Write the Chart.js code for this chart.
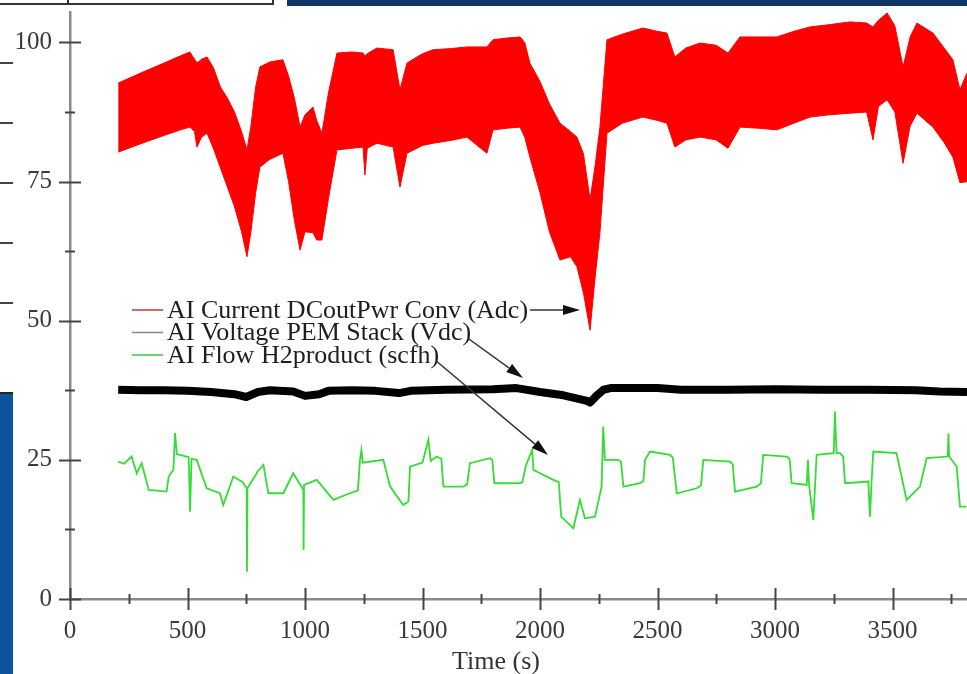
<!DOCTYPE html>
<html>
<head>
<meta charset="utf-8">
<title>PEM stack run</title>
<script src="https://cdn.jsdelivr.net/npm/chart.js@4.4.1/dist/chart.umd.min.js"></script>
<style>
  html, body { margin: 0; padding: 0; background: #fff; overflow: hidden; }
  #wrap { position: relative; width: 967px; height: 674px; }
  #plot { position: absolute; left: 0; top: 0; }
  .deco { position: absolute; }
</style>
</head>
<body>
<div id="wrap">
  <!-- bits of the slide around the cropped figure -->
  <div class="deco" style="left:0;top:3px;width:274px;height:2px;background:#333"></div>
  <div class="deco" style="left:67px;top:0;width:2px;height:5px;background:#333"></div>
  <div class="deco" style="left:272px;top:0;width:2px;height:5px;background:#333"></div>
  <div class="deco" style="left:0;top:62px;width:13px;height:2px;background:#444"></div>
  <div class="deco" style="left:0;top:122px;width:13px;height:2px;background:#444"></div>
  <div class="deco" style="left:0;top:182px;width:13px;height:2px;background:#444"></div>
  <div class="deco" style="left:0;top:242px;width:13px;height:2px;background:#444"></div>
  <div class="deco" style="left:0;top:302px;width:13px;height:2px;background:#444"></div>
  <div class="deco" style="left:0;top:392px;width:13px;height:282px;background:#0b53a0;border-top:2px solid #222"></div>
  <div class="deco" style="left:287px;top:0;width:680px;height:6px;background:#0e3768"></div>
  <canvas id="plot" width="967" height="674"></canvas>
</div>
<script>
// legend
const seriesNames = [
    'AI Current DCoutPwr Conv (Adc)',
    'AI Voltage PEM Stack (Vdc)',
    'AI Flow H2product (scfh)'
];
const legendColors = ['#cc3333', '#888888', '#33cc33'];
const axisTitle = 'Time (s)';

// current: band between the low and high of the ripple
const redTime = [205, 300, 400, 470, 510, 530, 540, 560, 583, 610, 640, 670, 700, 730, 753, 770, 790, 808, 850, 906,
    930, 955, 979, 1000, 1034, 1050, 1072, 1100, 1136, 1200, 1247, 1255, 1265, 1306, 1375, 1404, 1434, 1500, 1545, 1620,
    1689, 1774, 1800, 1860, 1915, 1935, 1957, 2000, 2040, 2085, 2130, 2157, 2185, 2213, 2235, 2255, 2285, 2350, 2438, 2500,
    2540, 2574, 2620, 2681, 2750, 2800, 2851, 2930, 3008, 3080, 3149, 3230, 3319, 3390, 3417, 3440, 3477, 3510, 3545, 3575,
    3604, 3672, 3720, 3757, 3787, 3817];
const redHigh = [92.7, 94.5, 96.3, 97.6, 98.3, 97.0, 96.3, 97.0, 97.4, 95.5, 92.0, 90.0, 87.5, 84.0, 80.7, 85.0, 92.0, 95.6, 96.5, 96.9,
    94.0, 90.0, 84.8, 87.0, 88.4, 86.0, 83.7, 91.0, 98.1, 98.3, 98.1, 97.5, 98.0, 99.0, 98.7, 91.5, 96.3, 98.0, 98.7, 98.9,
    99.2, 99.2, 100.5, 100.8, 101.0, 100.0, 96.3, 93.0, 89.0, 85.5, 84.0, 83.0, 80.0, 71.7, 78.0, 84.8, 100.5, 101.5, 102.6, 102.0,
    101.7, 97.4, 99.0, 99.9, 99.5, 98.1, 101.0, 101.0, 101.0, 102.0, 102.8, 103.2, 103.7, 103.5, 102.8, 104.0, 105.3, 103.0, 95.6, 101.0,
    103.5, 101.7, 99.0, 96.9, 91.5, 94.5];
const redLow = [80.3, 81.8, 83.3, 84.3, 84.8, 84.0, 81.2, 83.0, 83.7, 81.0, 77.5, 74.0, 70.5, 66.0, 61.5, 66.0, 73.0, 77.6, 79.0, 80.1,
    75.0, 68.0, 62.7, 66.0, 65.8, 64.5, 64.5, 72.0, 80.7, 81.0, 81.2, 76.2, 81.0, 81.9, 81.2, 74.0, 80.1, 81.5, 81.9, 82.4,
    83.0, 80.1, 84.3, 84.6, 84.8, 83.0, 79.4, 73.0, 66.0, 60.9, 61.5, 59.7, 55.0, 48.3, 58.0, 65.8, 83.7, 85.5, 86.6, 86.0,
    85.5, 81.2, 82.5, 83.0, 82.5, 81.0, 84.8, 84.6, 84.3, 85.5, 86.6, 87.0, 87.3, 87.5, 82.5, 88.5, 89.7, 87.5, 78.3, 85.0,
    87.3, 84.8, 82.0, 79.4, 74.8, 75.0];

// stack voltage
const voltTime = [205, 300, 400, 500, 600, 700, 750, 800, 850, 950, 1000, 1060, 1100, 1200, 1300, 1400, 1450, 1600, 1800, 1900,
    2000, 2100, 2200, 2213, 2240, 2270, 2300, 2500, 2600, 2800, 3000, 3200, 3400, 3600, 3700, 3817];
const voltValue = [37.6, 37.5, 37.5, 37.4, 37.2, 36.8, 36.3, 37.2, 37.5, 37.3, 36.5, 36.8, 37.4, 37.5, 37.4, 37.0, 37.4, 37.6, 37.7, 37.9,
    37.2, 36.6, 35.6, 35.3, 36.5, 37.6, 37.9, 37.9, 37.6, 37.6, 37.7, 37.6, 37.6, 37.5, 37.3, 37.2];

// hydrogen flow
const flowTime = [206, 230, 262, 284, 305, 335, 411, 420, 440, 447, 455, 468, 505, 511, 517, 539, 582, 638, 652, 695,
    735, 752, 753, 755, 800, 823, 844, 908, 950, 993, 994, 996, 1050, 1121, 1191, 1225, 1234, 1240, 1246, 1333, 1362,
    1418, 1440, 1447, 1500, 1525, 1535, 1560, 1580, 1589, 1674, 1690, 1702, 1787, 1797, 1806, 1915, 1925, 1940, 1967, 1972, 2000, 2057,
    2080, 2090, 2142, 2170, 2191, 2234, 2262, 2269, 2276, 2334, 2345, 2355, 2426, 2440, 2447, 2468, 2553, 2565, 2582, 2667, 2685,
    2695, 2809, 2820, 2830, 2922, 2940, 2950, 3050, 3062, 3071, 3135, 3140, 3145, 3163, 3170, 3177, 3250, 3255, 3262, 3277,
    3290, 3298, 3397, 3404, 3411, 3418, 3517, 3560, 3617, 3645, 3735, 3738, 3741, 3773, 3787, 3815];
const flowValue = [24.7, 24.3, 25.6, 22.6, 24.4, 19.6, 19.3, 22.0, 23.2, 29.8, 26.0, 25.9, 25.5, 15.7, 25.2, 25.0, 19.9, 19.0, 16.9, 22.0,
    21.0, 19.9, 4.9, 19.9, 23.0, 24.1, 19.0, 19.0, 22.6, 19.6, 8.8, 20.5, 21.4, 17.8, 19.0, 19.5, 25.0, 26.8, 24.5, 25.0, 20.2,
    16.9, 17.5, 23.8, 24.5, 28.6, 24.8, 25.6, 25.2, 20.2, 20.2, 20.6, 24.4, 25.3, 25.0, 20.8, 20.8, 21.0, 24.0, 26.8, 23.2, 22.6, 21.4,
    21.0, 14.8, 12.7, 17.8, 14.5, 14.8, 20.2, 31.0, 25.0, 25.0, 24.6, 20.2, 20.8, 21.2, 25.0, 26.5, 25.9, 25.4, 19.0, 19.9, 20.4,
    25.0, 24.7, 24.2, 19.3, 20.2, 20.8, 25.9, 25.6, 25.2, 20.8, 20.5, 25.0, 20.5, 14.2, 20.0, 25.9, 26.2, 33.7, 26.2, 26.2,
    25.6, 20.8, 21.1, 14.8, 21.1, 26.5, 26.2, 17.8, 20.2, 25.3, 25.6, 29.8, 25.6, 23.8, 16.6, 16.6];

const serif = "'Liberation Serif', 'Times New Roman', serif";
const pts = (xs, ys) => xs.map((x, i) => ({ x: x, y: ys[i] }));

function arrow(ctx, x1, y1, x2, y2) {
    const a = Math.atan2(y2 - y1, x2 - x1);
    const len = 17, half = 5;
    const bx = x2 - len * Math.cos(a), by = y2 - len * Math.sin(a);
    ctx.beginPath();
    ctx.moveTo(x1, y1);
    ctx.lineTo(bx, by);
    ctx.stroke();
    ctx.beginPath();
    ctx.moveTo(x2, y2);
    ctx.lineTo(bx + half * Math.sin(a), by - half * Math.cos(a));
    ctx.lineTo(bx - half * Math.sin(a), by + half * Math.cos(a));
    ctx.closePath();
    ctx.fill();
}

// ticks that cross the axis, legend block, arrows and the axis title
const figureExtras = {
    id: 'figureExtras',
    afterDraw(chart) {
        const ctx = chart.ctx;
        const xs = chart.scales.x, ys = chart.scales.y;
        ctx.save();
        ctx.strokeStyle = '#444';
        ctx.lineWidth = 2;
        xs.ticks.forEach(t => {
            const px = Math.round(xs.getPixelForValue(t.value)) + 0.5;
            const len = t.value % 500 === 0 ? 11 : 5;
            ctx.beginPath();
            ctx.moveTo(px, ys.bottom - len);
            ctx.lineTo(px, ys.bottom + len);
            ctx.stroke();
        });
        ys.ticks.forEach(t => {
            const py = Math.round(ys.getPixelForValue(t.value)) + 0.5;
            const len = t.value % 25 === 0 ? 11 : 5;
            ctx.beginPath();
            ctx.moveTo(xs.left - len, py);
            ctx.lineTo(xs.left + len, py);
            ctx.stroke();
        });

        ctx.font = '26px ' + serif;
        ctx.textBaseline = 'middle';
        const ends = [];
        seriesNames.forEach((name, i) => {
            const y = 310 + i * 22.5;
            ctx.strokeStyle = legendColors[i];
            ctx.lineWidth = 1.5;
            ctx.beginPath();
            ctx.moveTo(132, y);
            ctx.lineTo(163, y);
            ctx.stroke();
            ctx.fillStyle = '#1e1e1e';
            ctx.fillText(name, 167, y + 1);
            ends.push([167 + ctx.measureText(name).width, y]);
        });

        ctx.strokeStyle = '#333';
        ctx.fillStyle = '#111';
        ctx.lineWidth = 1.5;
        arrow(ctx, ends[0][0] + 2, ends[0][1], 580, ends[0][1]);
        arrow(ctx, ends[1][0] - 3, ends[1][1] + 6, 523, 378);
        arrow(ctx, ends[2][0] - 3, ends[2][1] + 6, 548, 455);

        ctx.fillStyle = '#333';
        ctx.textAlign = 'center';
        ctx.fillText(axisTitle, 496, 662);
        ctx.restore();
    }
};

new Chart(document.getElementById('plot'), {
    type: 'line',
    data: {
        datasets: [
            {
                data: pts(redTime, redHigh),
                borderColor: '#ff0000',
                backgroundColor: '#ff0000',
                borderWidth: 1,
                fill: '+1',
                pointRadius: 0,
                tension: 0
            },
            {
                data: pts(redTime, redLow),
                borderColor: '#ff0000',
                borderWidth: 1,
                fill: false,
                pointRadius: 0,
                tension: 0
            },
            {
                data: pts(voltTime, voltValue),
                borderColor: '#000000',
                borderWidth: 8,
                borderJoinStyle: 'round',
                fill: false,
                pointRadius: 0,
                tension: 0
            },
            {
                data: pts(flowTime, flowValue),
                borderColor: '#33dd33',
                borderWidth: 1.8,
                fill: false,
                pointRadius: 0,
                tension: 0
            }
        ]
    },
    options: {
        responsive: false,
        animation: false,
        devicePixelRatio: 1,
        layout: { padding: { top: 12, right: 0, bottom: 0, left: 0 } },
        plugins: {
            legend: { display: false },
            tooltip: { enabled: false }
        },
        scales: {
            x: {
                type: 'linear',
                min: 0,
                max: 3817,
                grid: { display: false, drawTicks: false },
                border: { display: true, color: '#8a8a8a', width: 2.5 },
                ticks: {
                    stepSize: 250,
                    autoSkip: false,
                    includeBounds: false,
                    maxRotation: 0,
                    padding: 20,
                    color: '#3a3a3a',
                    font: { family: serif, size: 25, lineHeight: 1 },
                    callback: v => (v % 500 === 0 ? String(v) : '')
                },
                afterFit(s) { s.height = 75; s.paddingLeft = 0; s.paddingRight = 0; }
            },
            y: {
                min: 0,
                max: 105.48,
                grid: { display: false, drawTicks: false },
                border: { display: true, color: '#8a8a8a', width: 2.5 },
                ticks: {
                    stepSize: 12.5,
                    autoSkip: false,
                    includeBounds: false,
                    padding: 18,
                    color: '#3a3a3a',
                    font: { family: serif, size: 25, lineHeight: 1 },
                    callback: v => (v % 25 === 0 ? String(v) : '')
                },
                afterFit(s) { s.width = 70; s.paddingTop = 0; s.paddingBottom = 0; }
            }
        }
    },
    plugins: [figureExtras]
});
</script>
</body>
</html>
